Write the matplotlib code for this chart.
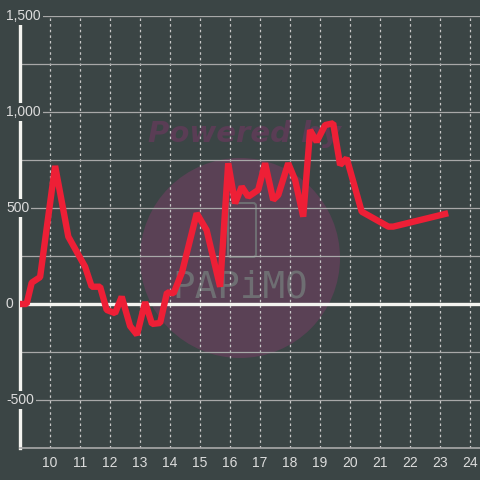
import matplotlib
matplotlib.use("Agg")
import matplotlib.pyplot as plt
import matplotlib.patches as patches
from matplotlib.transforms import blended_transform_factory

# data
x_vals = [9.0, 9.22, 9.39, 9.67, 10.17, 10.61, 11.17, 11.39, 11.67, 11.89,
          12.17, 12.39, 12.67, 12.9, 13.17, 13.4, 13.67, 13.9, 14.12, 14.4,
          14.89, 15.22, 15.67, 15.94, 16.17, 16.39, 16.61, 16.94, 17.17, 17.44,
          17.61, 17.94, 18.17, 18.44, 18.67, 18.89, 19.17, 19.44, 19.67, 19.89,
          20.39, 21.28, 21.44, 23.17]
y_vals = [0, 0, 111, 140, 719, 351, 194, 90, 90, -31,
          -48, 38, -115, -160, 10, -104, -99, 60, 56, 165,
          472, 385, 90, 733, 524, 611, 559, 594, 733, 542,
          568, 733, 646, 455, 906, 845, 932, 941, 724, 759,
          481, 403, 403, 469]
x_ticks = list(range(10, 25))
y_ticks = [-500, 0, 500, 1000, 1500]
y_minor = [-750, -250, 250, 750, 1250]

bg = "#3b4545"
fig = plt.figure(figsize=(4.8, 4.8), dpi=100, facecolor=bg)
ax = fig.add_axes([20 / 480, 32 / 480, 460 / 480, 432 / 480], facecolor=bg)
ax.set_xlim(9.0, 9.0 + 460 / 30)
ax.set_ylim(-750, 1500)

# watermark, sits under the grid
ft = fig.transFigure
ax.add_patch(patches.Ellipse((240 / 480, 1 - 258 / 480), 200 / 480, 200 / 480,
                             transform=ft, facecolor="#5a4155",
                             edgecolor="none", zorder=0.5, clip_on=False))
ax.text(148 / 480, 1 - 134 / 480, "Powered by", transform=ft, color="#5a3d55",
        fontsize=21, fontweight="bold", style="italic", va="center", ha="left",
        zorder=0.6, family="DejaVu Sans")
ax.add_patch(patches.FancyBboxPatch((228 / 480, 1 - 257 / 480), 28 / 480, 54 / 480,
                                    boxstyle="round,pad=0,rounding_size=0.006",
                                    transform=ft, facecolor="none",
                                    edgecolor="#6e6e72", linewidth=1.5,
                                    zorder=0.6))
ax.text(240 / 480, 1 - 288 / 480, "PAPiMO", transform=ft, color="#6e6e72",
        fontsize=27, va="center", ha="center", zorder=0.6,
        family="DejaVu Sans Mono")

# grid
for xv in x_ticks:
    ax.axvline(xv, color="#c8c8c8", lw=0.9, ls=(0, (2, 2.5)), zorder=1)
for yv in y_ticks + y_minor:
    ax.axhline(yv, color="#a8a8a8", lw=0.9, zorder=1)
ax.axhline(0, color="#f4f4f0", lw=2.4, zorder=2)

for s in ax.spines.values():
    s.set_visible(False)
ax.spines["left"].set_visible(True)
ax.spines["left"].set_color("#f4f4f0")
ax.spines["left"].set_linewidth(2.4)
ax.spines["bottom"].set_visible(True)
ax.spines["bottom"].set_color("#a8a8a8")
ax.spines["bottom"].set_linewidth(1.2)

ax.plot(x_vals, y_vals, color="#ee1f36", lw=4.6, solid_joinstyle="bevel",
        zorder=3)

ax.set_xticks(x_ticks)
ax.set_xticklabels([str(v) for v in x_ticks], color="#dcdcdc", fontsize=10,
                   family="Liberation Sans")
ax.tick_params(axis="x", length=0, pad=6)
ax.set_yticks([])

trans = blended_transform_factory(ax.transAxes, ax.transData)
for yv in y_ticks:
    ax.text(-14 / 460, yv, f"{yv:,}", transform=trans, ha="left", va="center",
            color="#dcdcdc", fontsize=10, family="Liberation Sans",
            clip_on=False, zorder=5,
            bbox=dict(boxstyle="square,pad=0.15", facecolor=bg,
                      edgecolor="none"))

fig.savefig("out.png", dpi=100, facecolor=bg)
